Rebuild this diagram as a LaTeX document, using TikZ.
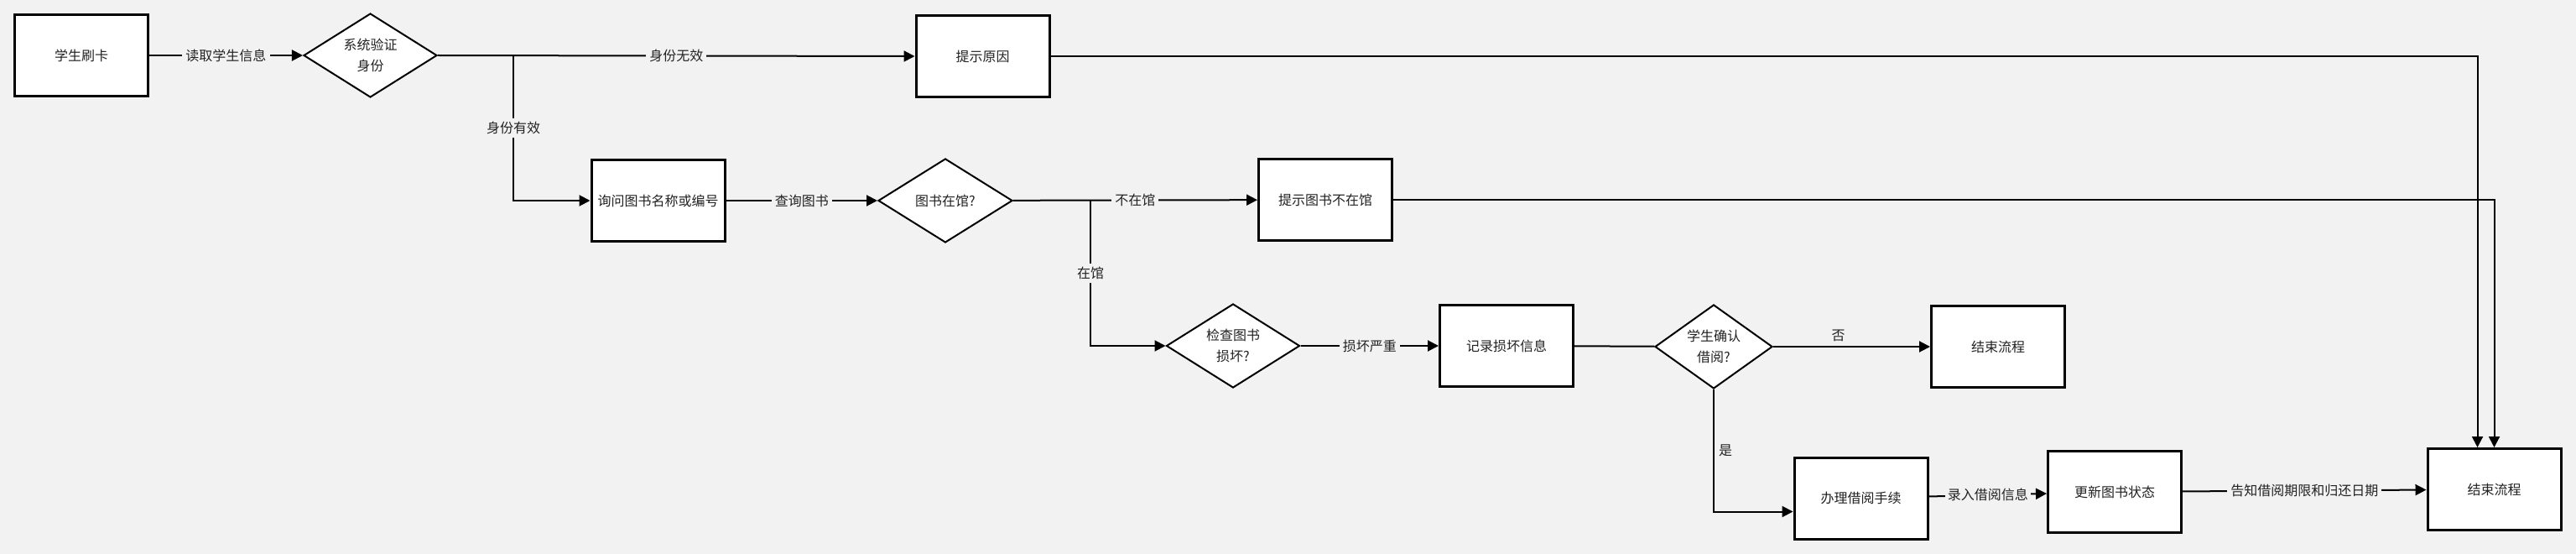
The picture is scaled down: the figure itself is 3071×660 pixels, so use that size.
\documentclass[tikz,border=0pt]{standalone}
\usepackage{fontspec}
\usepackage{tikz}
\usetikzlibrary{shapes.geometric, arrows.meta}
\setmainfont{Noto Sans CJK SC}
\definecolor{canvasbg}{RGB}{242,242,242}
\definecolor{inkdark}{RGB}{34,34,34}

\begin{document}
\begin{tikzpicture}[x=1pt, y=-1pt,
    every node/.style={font=\fontsize{16}{25}\selectfont, text=inkdark},
    procbox/.style={draw=black, line width=3pt, fill=white, minimum width=159pt,
      minimum height=97pt, inner sep=0pt, align=center},
    decbox/.style={diamond, draw=black, line width=2pt, fill=white, minimum width=159pt,
      minimum height=100pt, inner sep=0pt, aspect=1.6, align=center},
    flow/.style={draw=black, line width=2pt, -{Triangle[length=13pt,width=13pt]}},
    link/.style={draw=black, line width=2pt},
    lbl/.style={fill=canvasbg, inner sep=4pt}]
        % Canvas
        \fill[canvasbg] (0,0) rectangle (3071,660);
        \useasboundingbox (0,0) rectangle (3071,660);
        % Row 1: identity check
        \node[procbox] (card) at (97,66) {学生刷卡};
        \node[decbox] (verify) at (441.5,66) {系统验证\\身份};
        \node[procbox] (reason) at (1171.5,67) {提示原因};
        % Row 2: book lookup
        \node[procbox] (ask) at (784.5,239) {询问图书名称或编号};
        \node[decbox, minimum width=160pt] (instock) at (1127,239) {图书在馆?};
        \node[procbox] (notin) at (1580,238) {提示图书不在馆};
        % Row 3: damage check
        \node[decbox] (damage) at (1470,412) {检查图书\\损坏?};
        \node[procbox] (record) at (1796,412) {记录损坏信息};
        \node[decbox, minimum width=140pt] (confirm) at (2043,413) {学生确认\\借阅?};
        \node[procbox] (end1) at (2382,413) {结束流程};
        % Row 4: borrowing
        \node[procbox] (work) at (2218.5,593.5) {办理借阅手续};
        \node[procbox] (update) at (2521,586) {更新图书状态};
        \node[procbox] (end2) at (2973.5,583) {结束流程};
        % Split points
        \coordinate (vsplit) at (612,66);
        \coordinate (isplit) at (1300,239);
        % Connectors
        \draw[flow] (card) -- node[lbl] {读取学生信息} (verify);
        \draw[flow] (verify.east) -- node[lbl] {身份无效} (reason.west);
        \draw[flow] (vsplit) |- node[lbl, pos=0.25] {身份有效} (ask.west);
        \draw[flow] (ask) -- node[lbl] {查询图书} (instock);
        \draw[flow] (instock) -- node[lbl] {不在馆} (notin);
        \draw[flow] (isplit) |- node[lbl, pos=0.25] {在馆} (damage.west);
        \draw[flow] (damage) -- node[lbl] {损坏严重} (record);
        \draw[link] (record) -- (confirm);
        \draw[flow] (confirm) -- node[above, inner sep=5pt, xshift=-16pt] {否} (end1);
        \draw[flow] (confirm.south) |- node[right, pos=0.25, inner sep=5pt] {是}
          ([yshift=-16pt]work.west);
        \draw[flow] (work) -- node[lbl, inner sep=3pt] {录入借阅信息} (update);
        \draw[flow] (update) -- node[lbl] {告知借阅期限和归还日期} (end2);
        \draw[flow] (reason.east) -| ([xshift=-20pt]end2.north);
        \draw[flow] (notin.east) -| (end2.north);
\end{tikzpicture}
\end{document}
